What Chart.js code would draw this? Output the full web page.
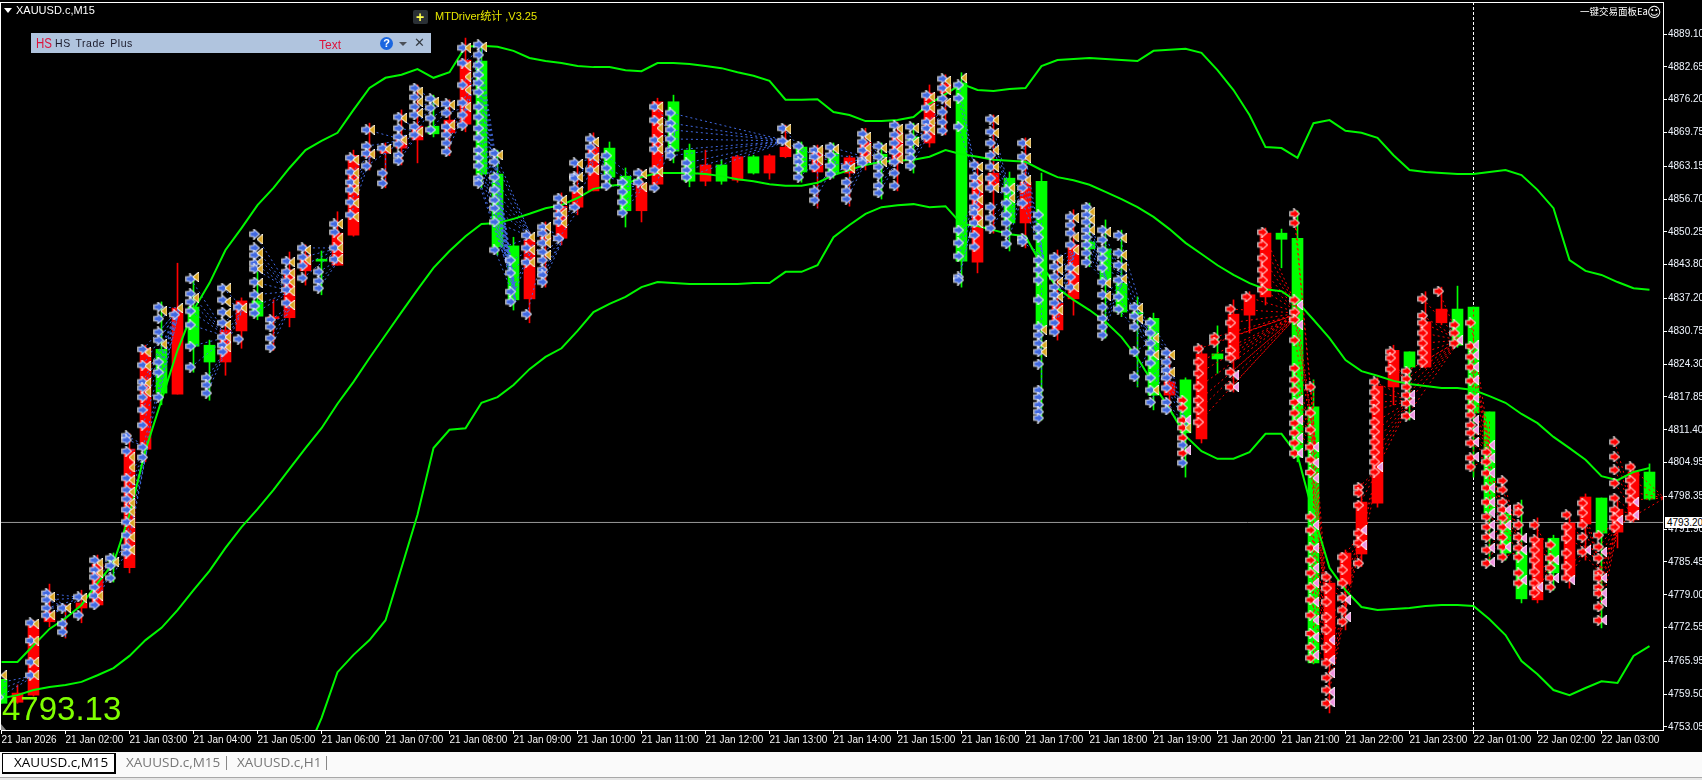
<!DOCTYPE html>
<html>
<head>
<meta charset="utf-8">
<title>XAUUSD.c,M15</title>
<script src="https://cdn.jsdelivr.net/npm/chart.js@4"></script>
<style>
html,body{margin:0;padding:0;background:#000;width:1702px;height:780px;overflow:hidden}
#wrap{position:relative;width:1702px;height:780px;overflow:hidden}
canvas#c{position:absolute;left:0;top:0}
.t{position:absolute;white-space:pre;font-family:"Liberation Sans",sans-serif;line-height:1}
#tabs{position:absolute;left:0;top:752px;width:1702px;height:25px;background:#fafafa;border-bottom:1px solid #a8a8a8}
#foot{position:absolute;left:0;top:778px;width:1702px;height:2px;background:#e6e6e6}
</style>
</head>
<body>
<div id="wrap">
<canvas id="c" width="1702" height="752"></canvas>
<div style="position:absolute;left:0;top:2px;width:1664px;height:1px;background:#fff"></div>
<div style="position:absolute;left:0;top:2px;width:1px;height:728px;background:#fff"></div>
<div style="position:absolute;left:1px;top:724px;width:0;height:0;border-left:5px solid #8a8a8a;border-top:6px solid transparent"></div>

<div class="t" style="left:4px;top:8px;width:0;height:0;border-left:4px solid transparent;border-right:4px solid transparent;border-top:5px solid #fff"></div>
<div class="t" style="left:16px;top:5px;font-size:11px;color:#fff">XAUUSD.c,M15</div>

<div style="position:absolute;left:413px;top:10px;width:15px;height:14px;background:#2a3035;border-radius:2px"></div>
<div class="t" style="left:416px;top:10px;font-size:14px;font-weight:bold;color:#ffff4d">+</div>
<div class="t" style="left:435px;top:11px;font-size:11px;color:#e6e600;font-family:'Liberation Sans','Noto Sans CJK SC',sans-serif">MTDriver统计 ,V3.25</div>

<div style="position:absolute;left:31px;top:33px;width:400px;height:20px;background:#b0c4de"></div>
<div class="t" style="left:36px;top:36px;font-size:14px;color:#dc143c;transform:scaleX(.82);transform-origin:left center">HS</div>
<div class="t" style="left:55px;top:38px;font-size:10.5px;color:#1a1a2a;letter-spacing:.55px;word-spacing:1.5px">HS Trade Plus</div>
<div class="t" style="left:319px;top:39px;font-size:12px;color:#dc143c">Text</div>
<div class="t" style="left:380px;top:37px;width:13px;height:13px;border-radius:50%;background:#1a66e0;color:#fff;font-size:11px;font-weight:bold;text-align:center;line-height:13px">?</div>
<div style="position:absolute;left:399px;top:42px;width:0;height:0;border-left:4px solid transparent;border-right:4px solid transparent;border-top:4px solid #4a4f57"></div>
<div class="t" style="left:414px;top:36px;font-size:13px;font-weight:bold;color:#333a42;font-family:'DejaVu Sans',sans-serif">✕</div>

<div class="t" style="left:1580px;top:7px;font-size:9.5px;color:#fff;font-family:'Noto Sans CJK SC',sans-serif">一键交易面板Ea</div>
<div class="t" style="left:1647px;top:5px;font-size:14px;color:#fff;font-family:'DejaVu Sans',sans-serif">☺</div>

<div class="t" style="left:2px;top:692px;font-size:33px;color:#7fff00">4793.13</div>
<div class="t" id="priceBox" style="left:1665px;width:37px;height:11px;background:#fff;color:#000;font-size:10px;line-height:11px;padding-left:2px;box-sizing:border-box;overflow:hidden">4793.20</div>

<div id="tabs"></div>
<div id="foot"></div>
<div style="position:absolute;left:2px;top:753px;width:111px;height:18px;background:#fff;border:1px solid #000;border-bottom-width:2px;border-right-width:2px"></div>
<div class="t" style="left:14px;top:756px;font-size:13.5px;color:#000;font-family:'Open Sans',sans-serif">XAUUSD.c,M15</div>
<div class="t" style="left:126px;top:756px;font-size:13.5px;color:#777;font-family:'Open Sans',sans-serif">XAUUSD.c,M15</div>
<div style="position:absolute;left:226px;top:756px;width:1px;height:14px;background:#888"></div>
<div class="t" style="left:237px;top:756px;font-size:13.5px;color:#777;font-family:'Open Sans',sans-serif">XAUUSD.c,H1</div>
<div style="position:absolute;left:326px;top:756px;width:1px;height:14px;background:#888"></div>
</div>

<script>
const opens=[4762.4,4757.9,4759.3,4773.7,4776.2,4776.4,4777.0,4785.8,4784.3,4807.6,
4827.2,4818.4,4835.5,4828.0,4824.7,4830.8,4836.7,4833.2,4833.4,4842.6,
4844.9,4843.7,4849.6,4865.0,4865.7,4866.7,4868.3,4871.0,4869.7,4871.4,
4883.8,4861.6,4847.5,4837.1,4848.8,4849.0,4855.1,4858.3,4866.7,4861.2,
4854.4,4859.6,4875.8,4866.3,4860.2,4863.4,4860.4,4865.0,4861.8,4865.0,
4866.9,4862.0,4865.7,4861.8,4863.8,4865.5,4863.8,4868.9,4867.7,4877.5,
4879.5,4844.3,4859.1,4860.8,4852.0,4860.2,4831.0,4837.1,4848.3,4846.9,
4840.2,4834.5,4833.3,4818.2,4821.2,4809.6,4826.3,4825.3,4833.9,4837.5,
4850.0,4849.0,4815.9,4765.6,4781.1,4787.0,4797.0,4819.8,4826.7,4823.7,
4832.4,4835.1,4835.5,4814.9,4794.9,4787.4,4778.0,4790.1,4782.5,4792.9,
4798.0,4791.3,4793.7,4803.1];
const highs=[4762.4,4761.3,4774.0,4781.1,4777.0,4779.9,4786.8,4787.2,4810.6,4828.0,
4836.5,4844.1,4840.8,4829.0,4832.0,4837.3,4842.4,4836.9,4846.3,4847.7,
4846.5,4854.2,4866.3,4871.6,4867.7,4874.2,4879.1,4877.1,4876.2,4888.3,
4887.0,4866.3,4849.2,4850.2,4852.2,4857.9,4863.8,4869.7,4867.9,4862.8,
4862.4,4876.5,4877.1,4867.5,4866.3,4864.4,4865.3,4865.3,4865.5,4871.2,
4867.9,4867.3,4867.7,4865.2,4870.6,4867.7,4871.8,4871.6,4879.1,4881.1,
4881.5,4864.0,4873.2,4862.0,4868.7,4861.8,4846.7,4854.6,4855.9,4852.6,
4850.6,4837.5,4834.3,4827.0,4821.6,4828.0,4831.8,4836.9,4838.5,4851.0,
4850.8,4854.4,4821.2,4782.9,4787.8,4800.8,4821.6,4828.0,4826.7,4838.5,
4839.4,4839.6,4835.5,4814.9,4796.0,4797.6,4794.1,4790.7,4795.3,4798.8,
4798.0,4797.6,4804.7,4804.7];
const lows=[4757.7,4757.7,4759.1,4772.7,4770.5,4773.5,4776.8,4781.5,4783.3,4805.1,
4816.3,4818.4,4822.7,4817.2,4822.1,4827.4,4833.0,4827.0,4831.6,4839.8,
4837.9,4843.7,4849.4,4862.4,4858.9,4863.4,4863.8,4868.9,4865.2,4869.9,
4858.9,4845.7,4834.9,4832.4,4839.4,4847.7,4853.6,4858.3,4859.3,4851.2,
4852.2,4859.6,4863.8,4859.1,4859.3,4859.6,4860.0,4861.6,4860.6,4864.8,
4860.0,4854.9,4860.8,4855.3,4862.4,4856.7,4858.3,4861.8,4866.9,4869.3,
4839.4,4842.2,4850.0,4846.5,4847.1,4813.3,4829.0,4833.9,4843.4,4829.4,
4833.6,4819.8,4815.3,4814.9,4802.1,4808.8,4822.5,4818.8,4830.4,4835.9,
4843.2,4805.1,4765.4,4755.8,4772.1,4784.5,4796.2,4816.3,4813.3,4823.5,
4832.0,4827.6,4802.1,4784.8,4785.8,4777.4,4777.4,4779.9,4780.3,4785.8,
4772.5,4788.2,4793.3,4797.6];
const closes=[4757.7,4759.7,4773.5,4775.6,4776.4,4777.4,4785.0,4785.6,4807.6,4827.4,
4818.6,4835.3,4827.8,4824.7,4831.0,4836.7,4833.7,4833.6,4842.8,4845.7,
4844.5,4850.0,4865.3,4866.0,4866.9,4868.9,4871.0,4869.5,4872.2,4884.0,
4861.6,4847.3,4836.9,4848.7,4849.2,4855.3,4858.1,4866.9,4861.0,4854.4,
4859.8,4875.8,4866.1,4860.2,4863.4,4860.2,4865.0,4861.8,4865.2,4866.9,
4862.0,4866.7,4861.8,4864.8,4867.9,4864.8,4869.7,4867.7,4877.5,4879.3,
4844.5,4860.6,4861.8,4852.0,4860.0,4831.6,4836.3,4847.7,4846.9,4840.8,
4834.5,4834.1,4818.2,4820.8,4810.8,4826.3,4825.3,4834.1,4837.9,4850.0,
4848.8,4806.0,4765.6,4781.3,4787.2,4797.2,4820.0,4827.0,4823.7,4832.6,
4835.1,4828.0,4814.7,4795.1,4787.2,4778.2,4790.1,4783.3,4793.1,4798.2,
4791.1,4795.8,4803.1,4797.8];

const upperBand=[4765.8,4765.8,4769.1,4772.3,4774.4,4777.0,4781.3,4785.2,4794.7,4807.4,
4817.2,4827.0,4834.9,4840.2,4846.7,4851.0,4855.5,4858.9,4862.8,4866.3,
4868.1,4869.7,4874.2,4878.5,4880.5,4881.1,4882.2,4880.5,4881.6,4886.6,
4886.8,4886.6,4885.8,4884.4,4883.8,4883.4,4882.8,4882.6,4882.6,4882.0,
4881.8,4883.4,4883.4,4883.2,4882.8,4882.4,4881.6,4880.9,4879.9,4876.2,
4876.2,4876.3,4873.8,4873.2,4872.0,4872.0,4872.2,4872.8,4875.4,4877.3,
4879.3,4878.1,4877.9,4878.3,4878.5,4882.8,4884.0,4884.2,4884.4,4884.2,
4884.0,4883.8,4885.8,4886.0,4886.2,4885.4,4882.0,4878.1,4873.2,4866.9,
4866.7,4864.8,4871.6,4872.2,4870.1,4869.7,4868.7,4865.3,4862.4,4862.0,
4861.8,4861.6,4861.6,4862.0,4862.4,4861.4,4858.5,4854.9,4844.7,4842.6,
4841.8,4840.4,4839.2,4838.9];
const middleBand=[4758.7,4759.3,4760.3,4760.9,4761.3,4761.9,4763.2,4764.6,4767.0,4770.1,
4772.5,4776.0,4779.9,4783.7,4788.2,4792.3,4795.8,4799.6,4803.7,4807.8,
4811.7,4816.5,4820.8,4825.5,4830.0,4834.5,4838.9,4843.2,4846.5,4849.4,
4851.8,4852.0,4852.8,4853.8,4854.9,4855.5,4856.9,4858.7,4859.3,4859.6,
4861.0,4861.8,4861.8,4861.8,4861.6,4861.2,4860.6,4860.2,4859.6,4859.3,
4859.3,4859.9,4861.4,4862.4,4863.4,4864.0,4864.2,4864.4,4865.0,4866.3,
4865.5,4865.0,4864.4,4864.2,4864.0,4862.4,4861.0,4860.4,4859.5,4858.1,
4856.7,4855.1,4853.2,4850.8,4848.1,4845.9,4843.7,4841.8,4840.2,4839.0,
4838.6,4836.5,4833.0,4829.4,4825.1,4822.9,4822.0,4821.0,4820.4,4820.0,
4819.6,4819.6,4819.2,4818.0,4816.7,4814.5,4812.7,4810.0,4807.8,4805.5,
4802.3,4801.5,4803.1,4803.9];
const lowerBand=[null,null,null,null,null,null,null,null,null,null,
null,null,null,null,null,null,null,null,null,4747.5,
4754.8,4763.8,4767.2,4770.1,4774.0,4784.3,4794.7,4807.8,4811.4,4811.7,
4816.7,4817.8,4820.2,4823.3,4825.7,4827.4,4830.8,4834.5,4836.1,4837.5,
4839.4,4840.4,4840.2,4840.0,4840.0,4840.0,4840.0,4840.2,4840.2,4842.4,
4842.4,4843.7,4849.2,4851.6,4853.8,4855.1,4855.5,4855.7,4855.1,4855.3,
4851.8,4851.4,4850.6,4849.8,4849.4,4843.7,4839.2,4836.9,4834.9,4832.6,
4829.6,4825.5,4820.4,4815.5,4810.2,4807.2,4805.7,4805.7,4807.0,4810.6,
4810.6,4806.4,4794.7,4784.3,4779.9,4776.6,4776.0,4776.2,4776.4,4776.8,
4777.0,4777.0,4776.8,4774.2,4771.1,4766.0,4763.4,4760.3,4759.3,4760.7,
4762.0,4761.7,4767.0,4768.9];

const blueEntries=[[0,[4761.7,4760.3,4758.9]],[2,[4773.5,4770.0,4765.8,4763.2]],[3,[4779.3,4778.0,4776.4,4775.0]],[4,[4776.4,4773.3,4771.7]],[5,[4778.6,4775.0]],
[6,[4785.8,4783.9,4782.5,4780.5,4778.8,4777.0]],[7,[4786.2,4784.7,4782.3]],
[8,[4810.2,4809.4,4807.2,4801.9,4799.6,4797.8,4795.7,4793.3,4790.7,4788.4,4787.2]],
[9,[4827.2,4824.1,4820.8,4819.6,4817.8,4815.3,4812.3,4808.0,4806.0]],
[10,[4835.5,4833.2,4830.6,4829.0,4824.7,4822.7,4817.8]],[11,[4834.0]],
[12,[4841.0,4838.1,4836.5,4834.7,4832.0,4827.8,4823.7]],[13,[4821.6,4820.2,4818.6]],
[14,[4839.2,4836.9,4834.5,4832.4,4829.6,4828.0,4826.7]],[15,[4835.5,4829.2]],
[16,[4849.8,4847.1,4845.7,4844.1,4843.0,4840.4,4837.9,4835.7,4834.3]],[17,[4833.0,4831.6,4829.4,4827.6]],
[18,[4844.5,4842.4,4840.6,4838.9,4836.3]],[19,[4847.1,4845.3,4843.6,4841.2]],[20,[4842.4,4840.6,4839.2]],
[21,[4851.8,4850.2,4847.1,4844.9]],[22,[4864.8,4862.0,4860.0,4858.5,4856.1,4853.6]],[23,[4870.3,4867.1,4865.7,4863.2]],
[24,[4866.7,4861.8,4859.8]],[25,[4872.8,4870.6,4868.9,4867.5,4865.3,4864.2]],[26,[4878.5,4876.7,4874.8,4873.2,4870.9,4869.3]],
[27,[4876.4,4874.6,4872.6,4870.3]],[28,[4875.4,4873.6,4870.9,4869.3,4867.7,4866.0]],[29,[4886.4,4883.4,4879.1,4875.6,4873.2,4871.2]],
[30,[4887.0,4885.0,4883.0,4881.1,4879.5,4877.7,4874.8,4872.8,4870.6,4868.7,4866.3,4864.8,4863.2,4860.8,4859.8]],
[31,[4865.7,4864.0,4861.0,4858.5,4856.5,4854.9,4852.2,4846.7]],[32,[4844.7,4842.2,4838.5,4836.5]],[33,[4849.6,4847.1,4844.3,4834.1]],
[34,[4851.2,4850.0,4848.1,4846.3,4844.7,4842.8,4841.8,4840.4]],[35,[4856.9,4855.1,4853.6,4852.2,4849.0]],[36,[4863.8,4861.2,4860.8,4858.7,4855.1]],
[37,[4868.5,4866.9,4865.2,4862.4]],[38,[4865.2,4862.8,4861.0,4859.3]],[39,[4860.0,4858.1,4856.1,4854.0]],[40,[4861.8,4860.0]],
[41,[4874.8,4872.2,4868.3,4866.5,4862.4,4858.9]],[42,[4873.6,4871.6,4870.3,4868.5,4866.3,4865.2]],[43,[4863.8,4862.4,4861.0]],
[49,[4870.6,4868.1]],[50,[4867.1,4865.0,4864.0,4862.6,4861.0]],[51,[4866.3,4865.0,4863.0,4858.3,4856.5]],[52,[4866.9,4865.3,4863.2,4861.6]],
[53,[4863.0,4860.0,4858.3,4856.7]],[54,[4869.5,4867.9,4866.3,4864.4,4863.8]],[55,[4867.1,4865.0,4863.0,4861.4,4859.3,4857.9]],
[56,[4871.2,4869.3,4867.7,4866.0,4864.0,4861.8,4859.3]],[57,[4870.9,4868.9,4867.7,4866.1,4864.8,4863.2]],[58,[4877.1,4874.6,4871.8,4870.6,4868.9]],
[59,[4880.3,4878.5,4876.4,4873.8,4871.8,4870.1]],[60,[4879.1,4876.5,4870.9,4850.6,4848.1,4845.5,4841.4,4840.8]],
[61,[4863.4,4861.0,4859.5,4857.1,4855.1,4854.0,4852.0,4849.6,4847.3]],[62,[4872.4,4869.9,4867.7,4865.3,4863.0,4860.8,4858.9,4855.1,4853.0,4851.0]],
[63,[4858.5,4855.9,4853.6,4852.0,4850.0,4847.9]],[64,[4867.7,4865.0,4863.0,4861.0,4858.9,4855.9,4849.0,4848.3]],
[65,[4853.6,4851.0,4849.2,4844.7,4842.8,4840.8,4836.9,4831.6,4830.0,4828.4,4826.7,4824.3,4819.2,4817.8,4816.3,4814.9,4813.7]],
[66,[4845.3,4843.4,4841.4,4839.4,4837.9,4836.3,4834.5,4832.4,4830.6]],[67,[4853.2,4851.6,4850.0,4847.7,4843.2,4841.4,4839.4]],
[68,[4855.1,4853.6,4852.2,4850.6,4849.2,4847.7,4846.1,4844.3]],[69,[4850.6,4848.7,4846.7,4845.1,4843.2,4840.4,4837.9,4835.5,4833.3,4831.6,4830.0]],
[70,[4849.6,4846.1,4843.7,4840.8,4837.5,4835.1]],[71,[4835.5,4833.7,4831.6,4826.7,4821.8]],[72,[4832.4,4830.4,4828.4,4826.5,4824.5,4821.6,4819.2,4816.8]],
[73,[4826.5,4824.7,4823.1,4821.6,4819.6,4816.8,4815.3]],[74,[4808.4,4804.9]]];
const blueExits=[[0,[4763.2]],[2,[4773.3,4770.0,4765.8,4763.2]],[3,[4778.6,4775.0]],[4,[4776.4]],[5,[4778.4]],[6,[4785.2,4783.3,4778.8]],[7,[4785.4]],
[8,[4806.0,4804.0,4801.5,4799.2,4797.0,4795.3,4793.1,4790.3,4787.8]],[9,[4826.6,4823.9,4820.6,4818.8]],[10,[4834.7,4828.2]],[11,[4835.3]],[12,[4841.4,4837.3]],
[14,[4839.2,4836.5,4834.3,4832.0,4829.6,4827.6]],[15,[4835.3]],[16,[4848.8,4846.1,4844.3,4843.0,4840.2,4837.5]],[18,[4844.3,4842.2,4840.4,4838.6,4835.9]],[19,[4846.7,4844.7]],
[21,[4851.8,4849.0,4847.1,4844.9]],[22,[4864.4,4861.8,4860.0,4858.5,4855.9,4853.2]],[23,[4870.3,4865.5]],[24,[4866.5]],[25,[4872.6,4868.3]],[26,[4877.8,4875.8,4873.6,4869.9]],
[27,[4875.8]],[28,[4875.2,4871.2]],[29,[4886.4,4882.8,4880.7,4878.1,4874.8]],[30,[4886.6]],[31,[4865.3]],[33,[4849.2,4846.7,4844.3]],[34,[4851.2,4849.2,4848.1,4845.7]],
[35,[4856.5,4854.0,4852.0]],[36,[4863.6,4861.0,4858.3]],[37,[4867.9,4864.8,4862.4]],[40,[4861.6,4859.1]],[41,[4874.8,4871.8,4870.6,4868.3,4866.5,4862.0]],
[49,[4870.5,4867.5]],[51,[4866.3,4864.4]],[52,[4866.5]],[53,[4862.8]],[54,[4868.9,4866.7,4864.8]],[55,[4866.7,4864.0]],[56,[4870.5,4868.7,4866.5,4864.6]],[57,[4870.6,4867.9]],
[58,[4876.7,4874.6,4871.8,4870.3]],[59,[4879.9,4878.1,4875.6]],[60,[4880.5]],[61,[4863.0,4860.8,4858.9,4856.5,4854.0,4852.0]],[62,[4872.2,4869.7,4866.3,4863.0,4858.9]],
[63,[4858.9,4856.9]],[64,[4867.7,4864.8,4860.4]],[65,[4831.0,4828.0,4826.7]],[66,[4844.7,4842.8,4840.4,4837.5,4834.9]],[67,[4853.0,4849.2,4846.7,4842.8,4839.4]],
[68,[4854.2,4852.6,4850.6]],[69,[4850.2,4840.2,4837.7]],[70,[4849.0,4845.7,4843.4,4841.0]],[71,[4835.3,4833.2]],[72,[4829.4,4826.1,4819.2]],[73,[4826.1,4822.7]],[74,[4811.8]]];
const redEntries=[[74,[4817.2,4815.7,4813.3,4811.8,4809.8,4806.8]],[75,[4827.3,4824.7,4822.5,4819.8,4817.2,4815.3,4812.9]],[76,[4829.6,4828.6]],
[77,[4835.1,4832.4,4829.6,4827.0,4825.5,4822.7,4819.8]],[78,[4837.5]],[79,[4850.2,4847.7,4845.1,4842.8,4840.8,4838.9]],
[81,[4853.8,4852.0,4836.9,4834.5,4833.0,4829.0,4823.5,4821.2,4819.2,4816.8,4814.7,4812.7,4810.8,4808.8,4806.8]],
[82,[4819.8,4814.7,4811.4,4808.0,4805.5,4803.0,4794.3,4791.7,4788.2,4785.8,4783.3,4780.5,4778.0,4775.0,4771.4,4768.7,4766.6]],
[83,[4782.5,4780.3,4777.6,4774.6,4772.1,4768.7,4765.6,4762.7,4760.3,4757.7]],[84,[4786.4,4783.9,4781.3,4778.4,4776.0,4773.7]],
[85,[4800.1,4799.0,4796.6,4791.1,4789.2,4785.2]],[86,[4820.8,4818.8,4816.8,4815.3,4812.9,4811.0,4809.0,4807.0,4805.1,4803.1]],[87,[4826.7,4825.5,4823.3]],
[88,[4822.9,4821.4,4819.8,4818.2,4816.6,4814.1]],[89,[4837.1,4833.8,4832.4,4830.4,4828.4,4826.5,4824.7]],[90,[4838.6]],[91,[4832.0,4830.4,4828.4]],
[92,[4832.4,4827.8,4825.7,4823.7,4821.0,4817.8,4815.9,4814.3,4812.3,4810.8,4808.8,4805.9,4804.1]],
[93,[4807.0,4805.1,4802.9,4800.0,4797.2,4794.3,4792.3,4790.3,4787.8,4785.2]],[94,[4801.4,4799.6,4797.2,4795.7,4794.1,4792.3,4790.3,4788.4,4786.4]],
[95,[4796.2,4795.1,4792.7,4790.3,4788.2,4786.4,4783.3,4781.3]],[96,[4792.7,4789.8,4787.8,4785.8,4783.5,4781.3,4779.4]],[97,[4788.8,4786.2,4784.3,4782.3,4780.5]],
[98,[4794.7,4792.3,4790.1,4787.2,4784.5,4782.3]],[99,[4797.0,4795.1,4792.7,4790.3,4787.4]],[100,[4790.7,4788.4,4786.2,4783.3,4782.3,4780.5,4779.3,4776.6,4774.0]],
[101,[4809.0,4806.1,4803.5,4800.9,4798.0,4795.7,4794.1,4792.3]],[102,[4804.1,4801.5,4799.2,4797.6,4794.1]]];
const redExits=[[74,[4813.3,4807.4]],[77,[4822.1,4819.8]],[81,[4835.9,4832.0,4817.2,4813.3,4809.8,4806.8]],
[82,[4808.0,4804.9,4801.9,4792.7,4788.2,4784.3,4781.3,4777.6,4774.0,4770.7,4767.2]],[83,[4770.1,4766.2,4763.6,4759.9,4757.9]],[84,[4778.0,4774.6]],[85,[4791.7,4788.8]],[86,[4804.1]],
[88,[4818.2,4816.8,4814.3]],[91,[4829.0]],[92,[4828.0,4826.1,4823.7,4821.2,4817.6,4813.3,4811.4,4809.0,4806.1]],
[93,[4808.4,4805.9,4802.9,4800.0,4797.2,4795.1,4792.7,4790.7,4788.2,4785.4]],[94,[4795.7,4792.7,4788.4]],[95,[4790.1,4787.8,4781.9]],[96,[4780.5]],[97,[4785.8,4782.3]],
[98,[4781.9]],[99,[4787.8]],[100,[4787.4,4782.3,4779.3,4777.6,4774.0]],[101,[4793.7]],[102,[4797.2,4794.7]]];

/* trade connectors: every entry of the first bar runs to one exit price on the second bar */
const blueFans=[[0,2,4763.2],[3,4,4776.4],[3,5,4778.4],[6,7,4785.4],[7,8,4789.0],[8,9,4808.0],[9,11,4835.3],[10,11,4835.3],[12,14,4829.6],[13,14,4827.6],[14,15,4835.3],
[16,18,4838.6],[17,18,4835.9],[19,21,4847.1],[20,21,4844.9],[22,23,4865.5],[23,25,4868.3],[25,26,4869.9],[26,27,4875.8],[27,28,4875.2],[28,29,4874.8],[29,30,4886.6],
[30,32,4838.5],[31,32,4836.5],[31,33,4849.2],[32,33,4846.7],[33,34,4849.2],[34,35,4849.0],[35,36,4855.0],[36,37,4864.8],[37,38,4861.0],[38,40,4859.1],[39,40,4859.1],[41,42,4870.0],
[42,49,4868.1],[43,49,4868.1],[49,50,4866.0],[50,51,4864.4],[51,52,4864.0],[52,54,4864.8],[53,54,4864.8],[54,55,4864.0],[55,56,4864.6],[57,58,4870.3],[58,59,4875.6],
[60,61,4858.0],[62,63,4856.9],[63,64,4860.4],[64,65,4845.0],[66,67,4846.7],[68,69,4840.2],[69,70,4841.0],[70,72,4826.1],[71,72,4829.4],[72,73,4826.1],[73,74,4811.8]];
const redFans=[[75,81,4834.3],[76,81,4834.3],[77,81,4834.3],[78,81,4834.3],[79,81,4834.3],[81,82,4808.0],[82,83,4766.2],[83,84,4778.0],[84,85,4791.7],[85,86,4804.1],
[86,88,4817.2],[87,88,4818.2],[88,91,4829.0],[89,91,4829.0],[90,91,4829.0],[92,93,4805.9],[93,94,4792.7],[94,95,4787.8],[96,97,4785.8],[98,99,4787.8],[99,100,4782.3],[100,101,4793.7],[101,102,4794.7],[102,103.8,4798.0]];
/* same-bar connector lines: bar, top price, bottom price */
const blueDrops=[[4,4776.0,4770.6],[24,4865.7,4859.0],[51,4866.0,4855.0],[53,4864.0,4855.4],[65,4853.0,4813.4],[71,4835.0,4820.0]];
const redDrops=[[82,4821.0,4765.6],[92,4835.0,4803.0],[93,4813.0,4786.0]];

const currentPrice=4793.20;
const separatorBar=92;
const yTickValues=[4889.10,4882.65,4876.20,4869.75,4863.15,4856.70,4850.25,4843.80,4837.20,4830.75,4824.30,4817.85,4811.40,4804.95,4798.35,4791.90,4785.45,4779.00,4772.55,4765.95,4759.50,4753.05];
const xTickBars=[0,4,8,12,16,20,24,28,32,36,40,44,48,52,56,60,64,68,72,76,80,84,88,92,96,100];
const xTickLabels=["21 Jan 2026","21 Jan 02:00","21 Jan 03:00","21 Jan 04:00","21 Jan 05:00","21 Jan 06:00","21 Jan 07:00","21 Jan 08:00","21 Jan 09:00","21 Jan 10:00","21 Jan 11:00","21 Jan 12:00","21 Jan 13:00","21 Jan 14:00","21 Jan 15:00","21 Jan 16:00","21 Jan 17:00","21 Jan 18:00","21 Jan 19:00","21 Jan 20:00","21 Jan 21:00","21 Jan 22:00","21 Jan 23:00","22 Jan 01:00","22 Jan 02:00","22 Jan 03:00"];

const X_MIN=-0.03125, X_MAX=103.84375, Y_MIN=4752.45, Y_MAX=4895.19;
const ENTRY_DX=-0.16, EXIT_DX=0.14;

function sprite(w,h,pts,fill){
  const c=document.createElement('canvas');c.width=w;c.height=h;
  const g=c.getContext('2d');
  g.beginPath();pts.forEach((p,i)=>i?g.lineTo(p[0],p[1]):g.moveTo(p[0],p[1]));g.closePath();
  g.lineJoin='miter';g.strokeStyle='#fff';g.lineWidth=1.7;g.stroke();
  g.fillStyle=fill;g.fill();
  return c;
}
const ARROW=[[1.2,3.6],[4.6,3.6],[4.6,1.2],[9.4,5.5],[4.6,9.8],[4.6,7.4],[1.2,7.4]];
const TRI=[[0.8,5],[5.6,0.8],[5.6,9.2]];
const blueArrow=sprite(11,11,ARROW,'#4169e1'), redArrow=sprite(11,11,ARROW,'#ff0000');
const goldTri=sprite(6,10,TRI,'#daa520'), pinkTri=sprite(6,10,TRI,'#ee90e0');

const barIdx=opens.map((_,i)=>i);
const flat=(list,dx)=>list.flatMap(([b,ps])=>ps.map(p=>({x:b+dx,y:p})));
function fanSegments(fans,entries,drops){
  const out=[];
  fans.forEach(([from,to,target])=>{
    const e=entries.find(r=>r[0]===from);
    if(!e)return;
    e[1].forEach(p=>{out.push({x:from+ENTRY_DX,y:p},{x:to+EXIT_DX,y:target},{x:to+EXIT_DX,y:null});});
  });
  drops.forEach(([b,a,c])=>{out.push({x:b,y:a},{x:b,y:c},{x:b,y:null});});
  return out;
}
const band=(arr)=>({type:'line',data:arr.map((v,i)=>({x:i,y:v})),borderColor:'#00f800',borderWidth:2,pointRadius:0,tension:0,spanGaps:false,order:7,borderJoinStyle:'miter'});
const pts=(data,style)=>({type:'scatter',data,pointStyle:style,pointRadius:6,pointHoverRadius:6,showLine:false,order:5});
const candleColor=i=>closes[i]>=opens[i]?'#ff0000':'#00ff00';
const noPadding=s=>{s.paddingLeft=0;s.paddingRight=0;s.paddingTop=0;s.paddingBottom=0;};

const chart=new Chart(document.getElementById('c'),{
  type:'bar',
  data:{datasets:[
    {type:'line',data:[{x:X_MIN,y:currentPrice},{x:X_MAX,y:currentPrice}],borderColor:'#9a9a9a',borderWidth:1,pointRadius:0,order:12},
    {type:'line',data:[{x:separatorBar,y:Y_MIN},{x:separatorBar,y:Y_MAX}],borderColor:'#ffffff',borderWidth:1,borderDash:[3,2],pointRadius:0,order:12},
    {type:'bar',data:barIdx.map(i=>({x:i,y:[lows[i],highs[i]]})),backgroundColor:barIdx.map(candleColor),barThickness:1,borderWidth:0,grouped:false,order:11},
    {type:'bar',data:barIdx.map(i=>({x:i,y:[opens[i],closes[i]]})),backgroundColor:barIdx.map(candleColor),barThickness:11,borderWidth:0,grouped:false,order:10},
    {type:'line',data:fanSegments(blueFans,blueEntries,blueDrops),borderColor:'#4169e1',borderWidth:1,borderDash:[2,3],pointRadius:0,spanGaps:false,tension:0,order:9},
    {type:'line',data:fanSegments(redFans,redEntries,redDrops),borderColor:'#ff0000',borderWidth:1,borderDash:[2,3],pointRadius:0,spanGaps:false,tension:0,order:9},
    band(upperBand),band(middleBand),band(lowerBand),
    pts(flat(blueExits,EXIT_DX),goldTri),
    pts(flat(redExits,EXIT_DX),pinkTri),
    pts(flat(blueEntries,ENTRY_DX),blueArrow),
    pts(flat(redEntries,ENTRY_DX),redArrow)
  ]},
  options:{
    responsive:false,animation:false,devicePixelRatio:1,events:[],
    layout:{autoPadding:false,padding:{left:1,top:3,right:0,bottom:0}},
    plugins:{legend:{display:false},tooltip:{enabled:false},title:{display:false}},
    scales:{
      x:{type:'linear',position:'bottom',offset:false,min:X_MIN,max:X_MAX,
        border:{display:true,color:'#fff',width:1},
        grid:{display:true,drawOnChartArea:false,drawTicks:true,tickLength:4,color:'#fff',offset:false},
        ticks:{autoSkip:false,maxRotation:0,minRotation:0,align:'start',padding:0,color:'#f4f4f4',
          font:{family:'"Liberation Sans",sans-serif',size:10},
          callback:(v,i)=>xTickLabels[i]},
        afterBuildTicks:s=>{s.ticks=xTickBars.map(v=>({value:v}));},
        afterFit:s=>{s.height=22;noPadding(s);}
      },
      y:{type:'linear',position:'right',min:Y_MIN,max:Y_MAX,
        border:{display:true,color:'#fff',width:1},
        grid:{display:true,drawOnChartArea:false,drawTicks:true,tickLength:4,color:'#fff'},
        ticks:{autoSkip:false,padding:1,color:'#f0f6ff',
          font:{family:'"Liberation Sans",sans-serif',size:10},
          callback:v=>v.toFixed(2)},
        afterBuildTicks:s=>{s.ticks=yTickValues.map(v=>({value:v}));},
        afterFit:s=>{s.width=39;noPadding(s);}
      }
    }
  }
});
document.getElementById('priceBox').style.top=Math.round(chart.scales.y.getPixelForValue(currentPrice)-5)+'px';
</script>
</body>
</html>
